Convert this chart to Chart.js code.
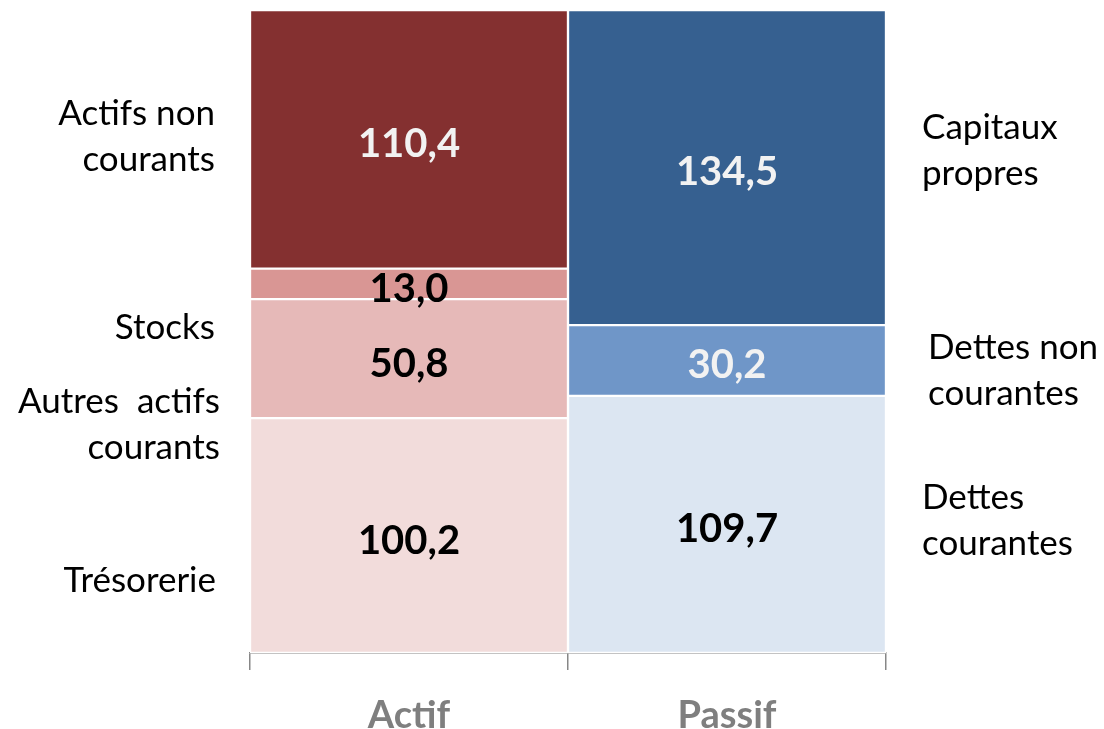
<!DOCTYPE html>
<html>
<head>
<meta charset="utf-8">
<script src="https://cdn.jsdelivr.net/npm/chart.js@4/dist/chart.umd.min.js"></script>
<style>
html,body{margin:0;padding:0;background:#fff;}
#wrap{width:1104px;height:729px;position:relative;}
</style>
</head>
<body>
<div id="wrap"><canvas id="c" width="1104" height="729"></canvas></div>
<script>
const categories = ["Actif", "Passif"];
// Actif (bottom to top)
const tresorerie = [100.2, null];
const autresActifs = [50.8, null];
const stocks = [13.0, null];
const actifsNonCourants = [110.4, null];
// Passif (bottom to top)
const dettesCourantes = [null, 109.7];
const dettesNonCourantes = [null, 30.2];
const capitauxPropres = [null, 134.5];

const leftLabels = [
  {lines: ["Actifs non", "courants"], y: 114, dx: 0},
  {lines: ["Stocks"], y: 328, dx: 0},
  {lines: ["Autres  actifs", "courants"], y: 402, dx: 5},
  {lines: ["Trésorerie"], y: 581, dx: 1}
];
const rightLabels = [
  {lines: ["Capitaux", "propres"], y: 128, dx: 0},
  {lines: ["Dettes non", "courantes"], y: 348, dx: 6},
  {lines: ["Dettes", "courantes"], y: 498, dx: 0}
];

function ds(label, data, bg, textColor) {
  return {label, data, backgroundColor: bg, borderColor: '#ffffff', borderWidth: 1.5,
    borderSkipped: false, barPercentage: 1, categoryPercentage: 1, textColor};
}

const valueLabels = {
  id: 'valueLabels',
  afterDatasetsDraw(chart) {
    const ctx = chart.ctx;
    ctx.save();
    ctx.font = 'bold 40px Lato';
    ctx.textAlign = 'center';
    ctx.textBaseline = 'middle';
    chart.data.datasets.forEach((d, i) => {
      const meta = chart.getDatasetMeta(i);
      meta.data.forEach((el, j) => {
        const v = d.data[j];
        if (v == null) return;
        const cy = (el.y + el.base) / 2;
        ctx.fillStyle = d.textColor;
        ctx.fillText(v.toFixed(1).replace('.', ','), el.x, cy + 5);
      });
    });
    ctx.restore();
  }
};

const sideLabels = {
  id: 'sideLabels',
  afterDraw(chart) {
    const ctx = chart.ctx;
    const a = chart.chartArea;
    ctx.save();
    ctx.font = '35px Lato';
    ctx.fillStyle = '#000000';
    ctx.textBaseline = 'middle';
    ctx.textAlign = 'right';
    leftLabels.forEach(l => l.lines.forEach((t, k) => ctx.fillText(t, a.left - 35 + l.dx, l.y + k * 46)));
    ctx.textAlign = 'left';
    rightLabels.forEach(l => l.lines.forEach((t, k) => ctx.fillText(t, a.right + 36 + l.dx, l.y + k * 46)));
    ctx.restore();
  }
};

new Chart(document.getElementById('c'), {
  type: 'bar',
  data: {
    labels: categories,
    datasets: [
      ds('Trésorerie', tresorerie, '#f2dcdb', '#000000'),
      ds('Autres actifs courants', autresActifs, '#e6b9b8', '#000000'),
      ds('Stocks', stocks, '#d99694', '#000000'),
      ds('Actifs non courants', actifsNonCourants, '#843030', '#f2f2f2'),
      ds('Dettes courantes', dettesCourantes, '#dce6f2', '#000000'),
      ds('Dettes non courantes', dettesNonCourantes, '#6f96c8', '#f2f2f2'),
      ds('Capitaux propres', capitauxPropres, '#366090', '#f2f2f2')
    ]
  },
  options: {
    responsive: false,
    animation: false,
    devicePixelRatio: 1,
    layout: {padding: {left: 250, right: 218, top: 10, bottom: 0}},
    plugins: {legend: {display: false}, tooltip: {enabled: false}},
    scales: {
      x: {
        stacked: true,
        grid: {display: true, drawOnChartArea: false, drawTicks: true, tickLength: 17, color: '#878787', lineWidth: 1.5},
        border: {display: true, color: '#878787', width: 1.5},
        ticks: {font: {family: 'Lato', size: 38, weight: 'bold'}, color: '#7f7f7f', padding: 23},
        afterFit(s) { s.height = 76; }
      },
      y: {
        stacked: true, display: false, min: 0, max: 274.4
      }
    }
  },
  plugins: [valueLabels, sideLabels]
});
</script>
</body>
</html>
